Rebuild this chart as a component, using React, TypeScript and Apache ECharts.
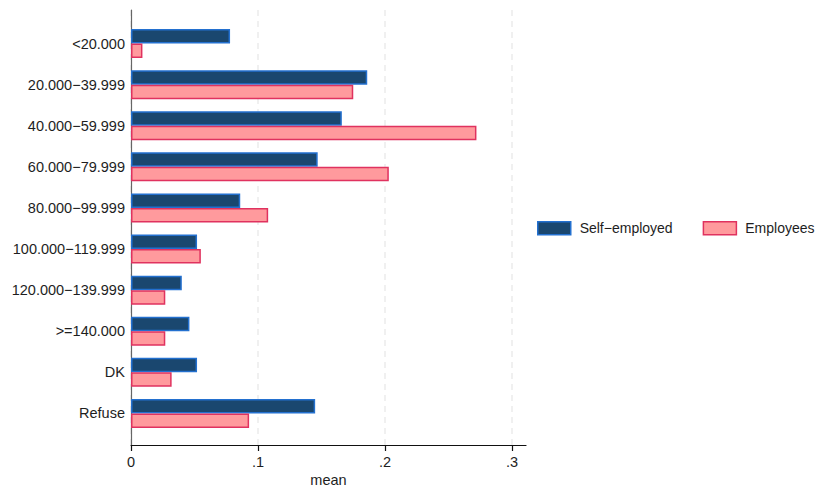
import React, { useEffect, useRef } from "react";
import * as echarts from "echarts";

// Income brackets (top to bottom)
const categories = [
  "<20.000",
  "20.000−39.999",
  "40.000−59.999",
  "60.000−79.999",
  "80.000−99.999",
  "100.000−119.999",
  "120.000−139.999",
  ">=140.000",
  "DK",
  "Refuse",
];

// Mean share per bracket
const selfEmployed = [0.078, 0.186, 0.166, 0.147, 0.086, 0.052, 0.040, 0.046, 0.052, 0.145];
const employees = [0.009, 0.175, 0.272, 0.203, 0.108, 0.055, 0.027, 0.027, 0.032, 0.093];

const xTicks = [0, 0.1, 0.2, 0.3];
const seriesNames = ["Self-employed", "Employees"];

const FONT = "Liberation Sans, Arial, Helvetica, sans-serif";
const TEXT = "#1e1e1e";
const FS = 14.5;

const DARK_FILL = "#1a476f";
const DARK_EDGE = "#2370cf";
const PINK_FILL = "#ff9a9d";
const PINK_EDGE = "#e0325f";

const fmtTick = (v: number) => {
  if (v === 0) return "0";
  const hit = xTicks.find((t) => Math.abs(t - v) < 1e-9);
  if (hit === undefined) return "";
  return String(Number(hit.toFixed(1))).replace(/^0/, "");
};

export default function App() {
  const ref = useRef<HTMLDivElement>(null);

  useEffect(() => {
    if (!ref.current) return;
    const chart = echarts.init(ref.current, null, { renderer: "svg" });

    const option: echarts.EChartsOption = {
      animation: false,
      backgroundColor: "#ffffff",
      textStyle: { fontFamily: FONT },
      grid: [
        // outer frame: axis lines
        { left: 131, top: 10, width: 395, height: 436 },
        // tick labels and dashed grid lines
        { left: 131, top: 10, width: 381, height: 436 },
        // bars
        { left: 131, top: 23, width: 381, height: 411 },
      ],
      xAxis: [
        {
          gridIndex: 0,
          type: "value",
          min: 0,
          max: 0.311,
          axisLine: { show: true, lineStyle: { color: "#111", width: 1.2 } },
          axisTick: { show: false },
          axisLabel: { show: false },
          splitLine: { show: false },
          name: "mean",
          nameLocation: "middle",
          nameGap: 27,
          nameTextStyle: { fontFamily: FONT, fontSize: FS, color: TEXT },
        },
        {
          gridIndex: 1,
          type: "value",
          min: 0,
          max: 0.3,
          interval: 0.1,
          axisLine: { show: false },
          axisTick: { show: true, length: 5, lineStyle: { color: "#111", width: 1.2 } },
          axisLabel: {
            show: true,
            margin: 8,
            fontFamily: FONT,
            fontSize: FS,
            color: TEXT,
            formatter: (v: number) => fmtTick(v),
          },
          splitLine: {
            show: true,
            lineStyle: { color: "#ececec", width: 1.5, type: [6, 5] },
          },
        },
        {
          gridIndex: 2,
          type: "value",
          min: 0,
          max: 0.3,
          show: false,
        },
      ],
      yAxis: [
        {
          gridIndex: 0,
          type: "value",
          min: 0,
          max: 1,
          axisLine: { show: true, lineStyle: { color: "#666", width: 1.2 } },
          axisTick: { show: false },
          axisLabel: { show: false },
          splitLine: { show: false },
        },
        {
          gridIndex: 1,
          type: "value",
          min: 0,
          max: 1,
          show: false,
          splitLine: { show: false },
        },
        {
          gridIndex: 2,
          type: "category",
          data: categories,
          inverse: true,
          axisLine: { show: false },
          axisTick: { show: false },
          axisLabel: {
            margin: 6,
            fontFamily: FONT,
            fontSize: FS,
            color: TEXT,
          },
          splitLine: { show: false },
        },
      ],
      legend: {
        left: 537,
        top: 221,
        padding: 0,
        orient: "horizontal",
        itemWidth: 33,
        itemHeight: 13,
        itemGap: 30,
        icon: "rect",
        textStyle: {
          fontFamily: FONT,
          fontSize: 14,
          color: TEXT,
        },
        data: [
          {
            name: seriesNames[0],
            itemStyle: { color: DARK_FILL, borderColor: DARK_EDGE, borderWidth: 1.5 },
          },
          {
            name: seriesNames[1],
            itemStyle: { color: PINK_FILL, borderColor: PINK_EDGE, borderWidth: 1.5 },
          },
        ],
        formatter: (n: string) => " " + n.replace("-", "−"),
      },
      series: [
        {
          name: seriesNames[0],
          type: "bar",
          xAxisIndex: 2,
          yAxisIndex: 2,
          data: selfEmployed,
          barWidth: 14.5,
          barGap: "0%",
          itemStyle: { color: DARK_FILL, borderColor: DARK_EDGE, borderWidth: 1.5 },
        },
        {
          name: seriesNames[1],
          type: "bar",
          xAxisIndex: 2,
          yAxisIndex: 2,
          data: employees,
          barWidth: 14.5,
          barGap: "0%",
          itemStyle: { color: PINK_FILL, borderColor: PINK_EDGE, borderWidth: 1.5 },
        },
      ],
    };

    chart.setOption(option);
    return () => chart.dispose();
  }, []);

  return (
    <div
      ref={ref}
      style={{ position: "absolute", left: 0, top: 0, width: 819, height: 492 }}
    />
  );
}
